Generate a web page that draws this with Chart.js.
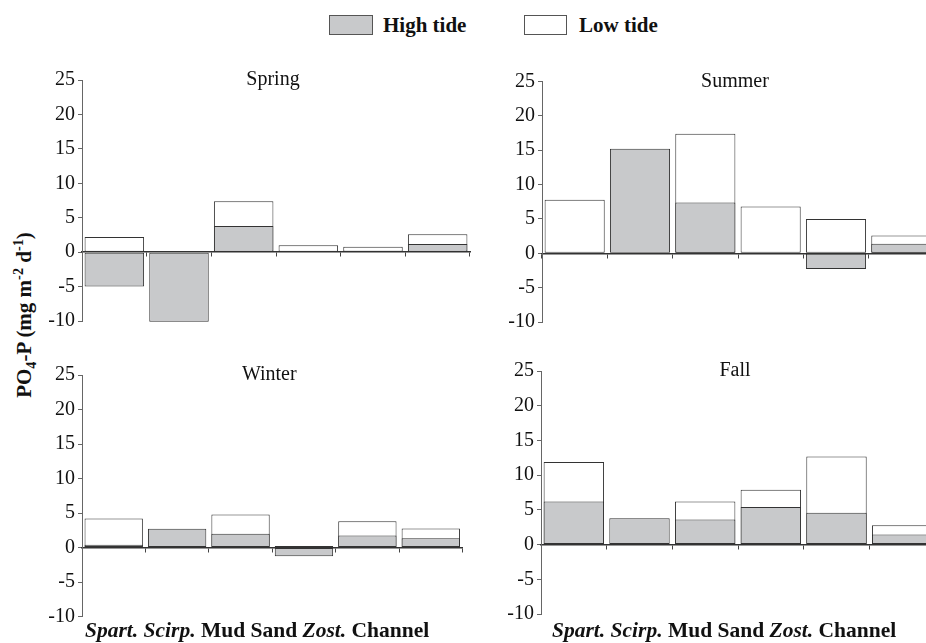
<!DOCTYPE html>
<html>
<head>
<meta charset="utf-8">
<script src="https://cdn.jsdelivr.net/npm/chart.js@4/dist/chart.umd.min.js"></script>
<style>
  html, body { margin: 0; padding: 0; background: #fff; }
  #fig {
    position: relative; width: 926px; height: 643px; overflow: hidden;
    font-family: 'Liberation Serif', 'Times New Roman', serif; color: #111;
  }
  #fig canvas { position: absolute; }
  .legend-box { position: absolute; box-sizing: border-box; border: 1px solid #555; }
  .txt {
    position: absolute; font-weight: bold; font-size: 21px; line-height: 21px;
    white-space: nowrap;
  }
  .txt sub, .txt sup { font-size: 0.68em; line-height: 0; }
  .xlab { font-size: 21.5px; }
  #ytitle { transform: translate(-50%, -50%) rotate(-90deg); }
</style>
</head>
<body>
<div id="fig">
  <div class="legend-box" style="left:329px;top:15px;width:44px;height:20px;background:#c8c9cb;"></div>
  <div class="txt" style="left:383px;top:15px;">High tide</div>
  <div class="legend-box" style="left:524px;top:15px;width:43px;height:20px;background:#fff;"></div>
  <div class="txt" style="left:579px;top:15px;">Low tide</div>

  <div class="txt" id="ytitle" style="left:24px;top:315px;">PO<sub>4</sub>-P (mg m<sup>-2</sup> d<sup>-1</sup>)</div>

  <canvas id="spring"></canvas>
  <canvas id="summer"></canvas>
  <canvas id="winter"></canvas>
  <canvas id="fall"></canvas>

  <div class="txt xlab" id="xlabWinter" style="left:85px;top:620px;"></div>
  <div class="txt xlab" id="xlabFall" style="left:552px;top:620px;"></div>
</div>

<script>
// Habitats along the x axis
const categories = ['Spart.', 'Scirp.', 'Mud', 'Sand', 'Zost.', 'Channel'];
// Genus abbreviations are set in italics
const genusNames = ['Spart.', 'Scirp.', 'Zost.'];

// PO4-P flux (mg m-2 d-1), high tide vs. low tide, per season
const springHigh = [-5.0, -10.1, 3.8, 0.0, 0.2, 1.2];
const springLow  = [2.2, 0.0, 7.4, 1.0, 0.8, 2.6];

const summerHigh = [-0.1, 15.2, 7.4, -0.1, -2.3, 1.4];
const summerLow  = [7.8, 0.0, 17.4, 6.8, 5.0, 2.6];

const winterHigh = [0.4, 2.7, 2.0, -1.25, 1.75, 1.35];
const winterLow  = [4.2, 0.0, 4.8, 0.2, 3.8, 2.75];

const fallHigh = [6.2, 3.8, 3.6, 5.4, 4.6, 1.45];
const fallLow  = [11.9, 0.0, 6.2, 7.9, 12.7, 2.8];

// Y axis range and tick step
const yMin = -10, yMax = 25, yStep = 5;

const HIGH_FILL = '#c8c9cb';
const LOW_FILL = '#ffffff';
const BAR_EDGE = '#333333';
const FONT = "'Liberation Serif', 'Times New Roman', serif";

// Panel title drawn centred at the top of the plot area
function panelTitle(text) {
  return {
    id: 'panelTitle',
    afterDraw(chart) {
      const { ctx, chartArea } = chart;
      ctx.save();
      ctx.font = '20px ' + FONT;
      ctx.fillStyle = '#111';
      ctx.textAlign = 'center';
      ctx.textBaseline = 'middle';
      ctx.fillText(text, (chartArea.left + chartArea.right) / 2 - 3, chartArea.top);
      ctx.restore();
    }
  };
}

const panels = [
  { id: 'spring', title: 'Spring', high: springHigh, low: springLow,
    box: { left: 0, top: 55, w: 480, h: 285 }, axisW: 82, pad: { top: 25, right: 10, bottom: 19 } },
  { id: 'summer', title: 'Summer', high: summerHigh, low: summerLow,
    box: { left: 460, top: 55, w: 480, h: 285 }, axisW: 82, pad: { top: 26.5, right: 6, bottom: 18 } },
  { id: 'winter', title: 'Winter', high: winterHigh, low: winterLow,
    box: { left: 0, top: 340, w: 480, h: 303 }, axisW: 82, pad: { top: 35, right: 17.5, bottom: 26.5 } },
  { id: 'fall', title: 'Fall', high: fallHigh, low: fallLow,
    box: { left: 460, top: 340, w: 480, h: 303 }, axisW: 81, pad: { top: 31, right: 5, bottom: 29 } }
];

panels.forEach(p => {
  const cv = document.getElementById(p.id);
  cv.width = p.box.w; cv.height = p.box.h;
  cv.style.left = p.box.left + 'px'; cv.style.top = p.box.top + 'px';
  cv.style.width = p.box.w + 'px'; cv.style.height = p.box.h + 'px';

  new Chart(cv, {
    type: 'bar',
    data: {
      labels: categories,
      datasets: [
        { label: 'High tide', data: p.high, backgroundColor: HIGH_FILL, order: 0 },
        { label: 'Low tide', data: p.low, backgroundColor: LOW_FILL, order: 1 }
      ]
    },
    options: {
      responsive: false,
      animation: false,
      events: [],
      devicePixelRatio: 1,
      layout: { padding: { left: 0, top: p.pad.top, right: p.pad.right, bottom: p.pad.bottom } },
      datasets: {
        bar: {
          grouped: false,
          clip: 6,
          barPercentage: 0.92,
          categoryPercentage: 1.0,
          borderColor: BAR_EDGE,
          borderWidth: 1,
          borderSkipped: false
        }
      },
      plugins: { legend: { display: false }, tooltip: { enabled: false }, title: { display: false } },
      scales: {
        x: {
          type: 'category',
          position: { y: 0 },
          offset: true,
          grid: { offset: true, drawOnChartArea: false, drawTicks: true, tickLength: 4, color: '#444', lineWidth: 1 },
          border: { display: true, color: '#333', width: 1.5 },
          ticks: { display: false }
        },
        y: {
          position: 'left',
          min: yMin, max: yMax,
          afterFit(scale) { scale.width = p.axisW; },
          ticks: { stepSize: yStep, color: '#111', padding: 3, font: { family: FONT, size: 20 } },
          grid: { drawOnChartArea: false, drawTicks: true, tickLength: 4, color: '#666' },
          border: { display: true, color: '#666', width: 1 }
        }
      }
    },
    plugins: [panelTitle(p.title)]
  });
});

// Habitat names written as one line beneath the lower panels
function habitatLine(el) {
  categories.forEach((c, i) => {
    if (i > 0) el.appendChild(document.createTextNode(' '));
    const s = document.createElement('span');
    s.textContent = c;
    if (genusNames.includes(c)) s.style.fontStyle = 'italic';
    el.appendChild(s);
  });
}
habitatLine(document.getElementById('xlabWinter'));
habitatLine(document.getElementById('xlabFall'));
</script>
</body>
</html>
